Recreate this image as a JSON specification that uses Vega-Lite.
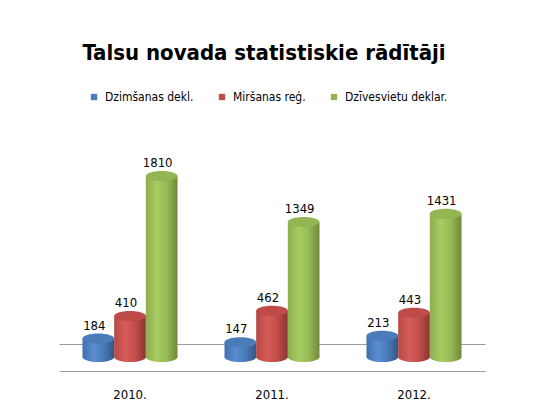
{
  "$schema": "https://vega.github.io/schema/vega-lite/v6.json",
  "autosize": {"type": "none"},
  "width": 426,
  "height": 214,
  "padding": {"left": 59, "top": 157, "right": 49, "bottom": 45},
  "background": "#ffffff",
  "config": {
    "font": "DejaVu Sans Condensed",
    "view": {"stroke": null}
  },
  "title": {
    "text": "Talsu novada statistiskie rādītāji",
    "font": "DejaVu Sans Condensed",
    "fontSize": 22,
    "fontWeight": "bold",
    "color": "#000000",
    "anchor": "middle",
    "baseline": "alphabetic",
    "offset": 9,
    "dx": -8
  },
  "data": {
    "values": [
      {"year": "2010.", "series": "Dzimšanas dekl.", "value": 184},
      {"year": "2010.", "series": "Miršanas reģ.", "value": 410},
      {"year": "2010.", "series": "Dzīvesvietu deklar.", "value": 1810},
      {"year": "2011.", "series": "Dzimšanas dekl.", "value": 147},
      {"year": "2011.", "series": "Miršanas reģ.", "value": 462},
      {"year": "2011.", "series": "Dzīvesvietu deklar.", "value": 1349},
      {"year": "2012.", "series": "Dzimšanas dekl.", "value": 213},
      {"year": "2012.", "series": "Miršanas reģ.", "value": 443},
      {"year": "2012.", "series": "Dzīvesvietu deklar.", "value": 1431}
    ]
  },
  "encoding": {
    "x": {
      "field": "year", "type": "nominal",
      "scale": {"paddingInner": 0.331, "paddingOuter": 0.1655},
      "axis": {
        "title": null, "labelAngle": 0, "ticks": false,
        "domainColor": "#9a9a9a", "domainWidth": 1,
        "labelFont": "DejaVu Sans Condensed", "labelFontSize": 13,
        "labelColor": "#000000", "labelPadding": 17, "labelDx": -13
      }
    },
    "xOffset": {
      "field": "series", "type": "nominal",
      "sort": ["Dzimšanas dekl.", "Miršanas reģ.", "Dzīvesvietu deklar."],
      "scale": {"paddingInner": 0, "paddingOuter": 0}
    },
    "y": {
      "field": "value", "type": "quantitative",
      "scale": {"domain": [-140, 2000], "nice": false, "zero": false},
      "axis": {
        "title": null, "labels": false, "ticks": false, "domain": false,
        "values": [130], "grid": true, "gridColor": "#9a9a9a", "gridWidth": 1
      }
    }
  },
  "layer": [
    {
      "transform": [{"filter": "datum.series === 'Dzimšanas dekl.'"}],
      "mark": {"type": "point", "filled": true, "opacity": 1, "strokeWidth": 0, "size": 1005,
        "shape": "M-1,0A1,0.32,0,1,0,1,0A1,0.32,0,1,0,-1,0Z",
        "fill": {"gradient": "linear", "x1": 0, "x2": 1, "y1": 0, "y2": 0,
          "stops": [{"offset": 0, "color": "#3F6FAE"}, {"offset": 0.35, "color": "#5A8DCF"}, {"offset": 0.65, "color": "#4A7CBA"}, {"offset": 1, "color": "#2F5788"}]}},
      "encoding": {"y": {"datum": 0}}
    },
    {
      "transform": [{"filter": "datum.series === 'Miršanas reģ.'"}],
      "mark": {"type": "point", "filled": true, "opacity": 1, "strokeWidth": 0, "size": 1005,
        "shape": "M-1,0A1,0.32,0,1,0,1,0A1,0.32,0,1,0,-1,0Z",
        "fill": {"gradient": "linear", "x1": 0, "x2": 1, "y1": 0, "y2": 0,
          "stops": [{"offset": 0, "color": "#B64845"}, {"offset": 0.35, "color": "#D65C59"}, {"offset": 0.65, "color": "#C24F4C"}, {"offset": 1, "color": "#8C3331"}]}},
      "encoding": {"y": {"datum": 0}}
    },
    {
      "transform": [{"filter": "datum.series === 'Dzīvesvietu deklar.'"}],
      "mark": {"type": "point", "filled": true, "opacity": 1, "strokeWidth": 0, "size": 1005,
        "shape": "M-1,0A1,0.32,0,1,0,1,0A1,0.32,0,1,0,-1,0Z",
        "fill": {"gradient": "linear", "x1": 0, "x2": 1, "y1": 0, "y2": 0,
          "stops": [{"offset": 0, "color": "#8EAE4E"}, {"offset": 0.35, "color": "#A8CB62"}, {"offset": 0.65, "color": "#99BB58"}, {"offset": 1, "color": "#6E8A37"}]}},
      "encoding": {"y": {"datum": 0}}
    },
    {
      "transform": [{"filter": "datum.series === 'Dzimšanas dekl.'"}],
      "mark": {"type": "bar", "strokeWidth": 0,
        "fill": {"gradient": "linear", "x1": 0, "x2": 1, "y1": 0, "y2": 0,
          "stops": [{"offset": 0, "color": "#3F6FAE"}, {"offset": 0.35, "color": "#5A8DCF"}, {"offset": 0.65, "color": "#4A7CBA"}, {"offset": 1, "color": "#2F5788"}]}},
      "encoding": {"y2": {"datum": 0}}
    },
    {
      "transform": [{"filter": "datum.series === 'Miršanas reģ.'"}],
      "mark": {"type": "bar", "strokeWidth": 0,
        "fill": {"gradient": "linear", "x1": 0, "x2": 1, "y1": 0, "y2": 0,
          "stops": [{"offset": 0, "color": "#B64845"}, {"offset": 0.35, "color": "#D65C59"}, {"offset": 0.65, "color": "#C24F4C"}, {"offset": 1, "color": "#8C3331"}]}},
      "encoding": {"y2": {"datum": 0}}
    },
    {
      "transform": [{"filter": "datum.series === 'Dzīvesvietu deklar.'"}],
      "mark": {"type": "bar", "strokeWidth": 0,
        "fill": {"gradient": "linear", "x1": 0, "x2": 1, "y1": 0, "y2": 0,
          "stops": [{"offset": 0, "color": "#8EAE4E"}, {"offset": 0.35, "color": "#A8CB62"}, {"offset": 0.65, "color": "#99BB58"}, {"offset": 1, "color": "#6E8A37"}]}},
      "encoding": {"y2": {"datum": 0}}
    },
    {
      "mark": {"type": "point", "filled": true, "opacity": 1, "strokeWidth": 0, "size": 1005,
        "shape": "M-1,0A1,0.32,0,1,0,1,0A1,0.32,0,1,0,-1,0Z"},
      "encoding": {
        "color": {
          "field": "series", "type": "nominal",
          "sort": ["Dzimšanas dekl.", "Miršanas reģ.", "Dzīvesvietu deklar."],
          "scale": {"domain": ["Dzimšanas dekl.", "Miršanas reģ.", "Dzīvesvietu deklar."], "range": ["#4A7CBA", "#BE4B48", "#93B553"]},
          "legend": {
            "title": null, "orient": "none", "direction": "horizontal",
            "legendX": 29, "legendY": -66, "padding": 0,
            "symbolType": "square", "symbolSize": 40, "symbolStrokeWidth": 0,
            "labelFont": "DejaVu Sans Condensed", "labelFontSize": 12, "labelColor": "#000000",
            "labelOffset": 5, "columnPadding": 22
          }
        }
      }
    },
    {
      "mark": {"type": "text", "font": "DejaVu Sans Condensed", "fontSize": 13, "color": "#000000", "baseline": "middle", "dy": -13, "dx": -4},
      "encoding": {"text": {"field": "value", "type": "quantitative"}}
    }
  ]
}
